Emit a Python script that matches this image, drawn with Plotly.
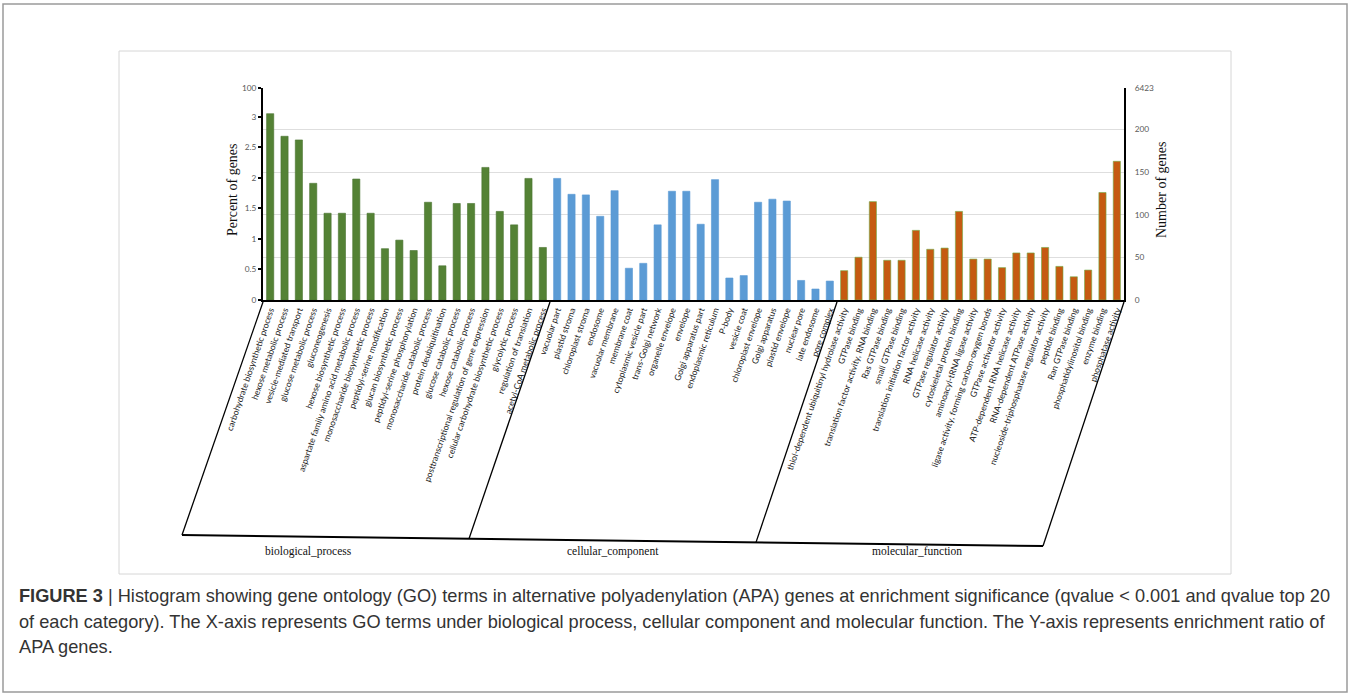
import plotly.graph_objects as go

# ---------------- data ----------------
bp_terms = [
    "carbohydrate biosynthetic process", "hexose metabolic process", "vesicle-mediated transport",
    "glucose metabolic process", "gluconeogenesis", "hexose biosynthetic process",
    "aspartate family amino acid metabolic process", "monosaccharide biosynthetic process",
    "peptidyl-serine modification", "glucan biosynthetic process", "peptidyl-serine phosphorylation",
    "monosaccharide catabolic process", "protein deubiquitination", "glucose catabolic process",
    "hexose catabolic process", "posttranscriptional regulation of gene expression",
    "cellular carbohydrate biosynthetic process", "glycolytic process", "regulation of translation",
    "acetyl-CoA metabolic process",
]
bp_values = [3.05, 2.68, 2.62, 1.91, 1.42, 1.42, 1.98, 1.42, 0.84, 0.98,
             0.81, 1.60, 0.56, 1.58, 1.58, 2.17, 1.45, 1.23, 1.99, 0.86]

cc_terms = [
    "vacuolar part", "plastid stroma", "chloroplast stroma", "endosome", "vacuolar membrane",
    "membrane coat", "cytoplasmic vesicle part", "trans-Golgi network", "organelle envelope",
    "envelope", "Golgi apparatus part", "endoplasmic reticulum", "P-body", "vesicle coat",
    "chloroplast envelope", "Golgi apparatus", "plastid envelope", "nuclear pore",
    "late endosome", "pore complex",
]
cc_values = [1.99, 1.73, 1.72, 1.37, 1.79, 0.52, 0.60, 1.23, 1.78, 1.78,
             1.24, 1.97, 0.36, 0.40, 1.60, 1.65, 1.62, 0.32, 0.18, 0.31]

mf_terms = [
    "thiol-dependent ubiquitinyl hydrolase activity", "GTPase binding",
    "translation factor activity, RNA binding", "Ras GTPase binding", "small GTPase binding",
    "translation initiation factor activity", "RNA helicase activity", "GTPase regulator activity",
    "cytoskeletal protein binding", "aminoacyl-tRNA ligase activity",
    "ligase activity, forming carbon-oxygen bonds", "GTPase activator activity",
    "ATP-dependent RNA helicase activity", "RNA-dependent ATPase activity",
    "nucleoside-triphosphatase regulator activity", "peptide binding", "Ran GTPase binding",
    "phosphatidylinositol binding", "enzyme binding", "phosphatase activity",
]
mf_values = [0.48, 0.70, 1.61, 0.65, 0.65, 1.14, 0.83, 0.85, 1.45, 0.67,
             0.67, 0.53, 0.77, 0.77, 0.86, 0.55, 0.38, 0.49, 1.76, 2.27]

group_names = ["biological_process", "cellular_component", "molecular_function"]

left_tick_vals = [0, 0.5, 1, 1.5, 2, 2.5, 3]
left_tick_text = ["0", "0.5", "1", "1.5", "2", "2.5", "3"]
left_top_label = "100"
right_tick_counts = [0, 50, 100, 150, 200]
right_top_label = "6423"
genes_per_unit = 71.7      # genes per percent unit on the shared scale
y_top = 3.47               # axis break top

caption_lines = [
    "<b>FIGURE 3</b> | Histogram showing gene ontology (GO) terms in alternative polyadenylation (APA) genes at enrichment significance (qvalue &lt; 0.001 and qvalue top 20",
    "of each category). The X-axis represents GO terms under biological process, cellular component and molecular function. The Y-axis represents enrichment ratio of",
    "APA genes.",
]

# ---------------- layout geometry (pixels) ----------------
W, H = 1351, 697
PL, PR, PT, PB = 263, 1124, 88, 300
pw, ph = PR - PL, PB - PT


def fx(p):
    return (p - PL) / pw


def fy(p):
    return (PB - p) / ph


n_all = len(bp_terms) + len(cc_terms) + len(mf_terms)

fig = go.Figure()
for terms, vals, col, edge in [
    (bp_terms, bp_values, "#548235", "#4a7430"),
    (cc_terms, cc_values, "#5B9BD5", "#5B9BD5"),
    (mf_terms, mf_values, "#C55A11", "#70AD47"),
]:
    fig.add_trace(go.Bar(x=terms, y=vals, marker=dict(color=col, line=dict(color=edge, width=0.6)),
                         width=0.5, showlegend=False, hoverinfo="x+y"))

fig.add_trace(go.Scatter(x=[bp_terms[0]], y=[0], yaxis="y2", mode="markers",
                         marker=dict(opacity=0), showlegend=False, hoverinfo="skip"))

right_vals = [c / genes_per_unit for c in right_tick_counts] + [y_top]
right_text = [str(c) for c in right_tick_counts] + [right_top_label]

tickfont = dict(family="Lato, Liberation Sans, sans-serif", size=8.3, color="#595959")

fig.update_layout(
    width=W, height=H, autosize=False,
    margin=dict(l=PL, r=W - PR, t=PT, b=H - PB),
    paper_bgcolor="white", plot_bgcolor="white",
    barmode="overlay",
    xaxis=dict(
        range=[-0.5, n_all - 0.5], showline=True, linecolor="black", linewidth=1.5,
        tickangle=-71, ticks="", showgrid=False, zeroline=False,
        tickfont=dict(family="Lato, Liberation Sans, sans-serif", size=8.6, color="#1a1a1a"),
        fixedrange=True,
    ),
    yaxis=dict(
        range=[0, y_top], tickvals=left_tick_vals + [y_top], ticktext=left_tick_text + [left_top_label],
        showline=True, linecolor="black", linewidth=2, ticks="outside", ticklen=3, tickwidth=2,
        tickcolor="black", showgrid=False, zeroline=False, tickfont=tickfont, fixedrange=True,
    ),
    yaxis2=dict(
        range=[0, y_top], overlaying="y", side="right", tickvals=right_vals, ticktext=right_text,
        showline=True, linecolor="black", linewidth=2, ticks="", showgrid=True,
        gridcolor="#dedede", gridwidth=1, zeroline=False, tickfont=tickfont, ticklabelstandoff=7,
        fixedrange=True,
    ),
)

shapes = []
# outer frame and inner figure frame
shapes.append(dict(type="rect", xref="paper", yref="paper", x0=fx(3), x1=fx(1347), y0=fy(4), y1=fy(692),
                   line=dict(color="#9a9a9a", width=1.5)))
shapes.append(dict(type="rect", xref="paper", yref="paper", x0=fx(119), x1=fx(1231), y0=fy(51), y1=fy(574),
                   line=dict(color="#d6d6d6", width=1)))

# category bracket lines
boundaries = [-0.5, len(bp_terms) - 0.5, len(bp_terms) + len(cc_terms) - 0.5, n_all - 0.5]
dx_px = -81
bottoms = []
for b in boundaries:
    top_x = PL + (b + 0.5) / n_all * pw
    bot_x = top_x + dx_px
    bot_y = 535 + (top_x - PL) / pw * 11
    bottoms.append((bot_x, bot_y))
    shapes.append(dict(type="line", xref="paper", yref="paper", x0=fx(top_x), y0=fy(302),
                       x1=fx(bot_x), y1=fy(bot_y), line=dict(color="black", width=1.3)))
shapes.append(dict(type="line", xref="paper", yref="paper", x0=fx(bottoms[0][0]), y0=fy(bottoms[0][1]),
                   x1=fx(bottoms[-1][0]), y1=fy(bottoms[-1][1]), line=dict(color="black", width=2)))

annotations = []
for i, name in enumerate(group_names):
    cx = (bottoms[i][0] + bottoms[i + 1][0]) / 2 + (i - 1) * 17.5
    annotations.append(dict(text=name, xref="paper", yref="paper", x=fx(cx), y=fy(551),
                            showarrow=False, xanchor="center", yanchor="middle",
                            font=dict(family="Liberation Serif, serif", size=11.5, color="#111")))

annotations.append(dict(text="Percent of genes", xref="paper", yref="paper", x=fx(232), y=fy(190),
                        textangle=-90, showarrow=False, xanchor="center", yanchor="middle",
                        font=dict(family="Liberation Serif, serif", size=14, color="#111")))
annotations.append(dict(text="Number of genes", xref="paper", yref="paper", x=fx(1161), y=fy(190),
                        textangle=-90, showarrow=False, xanchor="center", yanchor="middle",
                        font=dict(family="Liberation Serif, serif", size=14, color="#111")))

for line, ypx in zip(caption_lines, [596, 622, 647]):
    annotations.append(dict(text=line, xref="paper", yref="paper", x=fx(17), y=fy(ypx),
                            showarrow=False, xanchor="left", yanchor="middle", align="left",
                            font=dict(family="Liberation Sans, Arial, sans-serif", size=18.2, color="#333333")))

fig.update_layout(shapes=shapes, annotations=annotations)

fig.write_html("out.html", config={"displayModeBar": False},
               post_script="document.body.style.margin='0';")
